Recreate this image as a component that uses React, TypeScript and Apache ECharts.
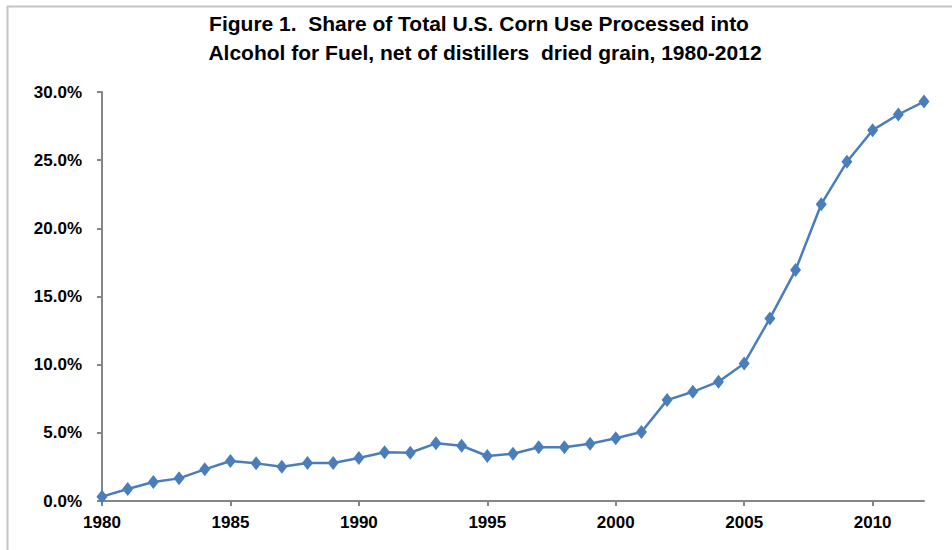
import React, { useEffect, useRef } from "react";
import * as echarts from "echarts";

const years: number[] = [
  1980, 1981, 1982, 1983, 1984, 1985, 1986, 1987, 1988, 1989, 1990,
  1991, 1992, 1993, 1994, 1995, 1996, 1997, 1998, 1999, 2000,
  2001, 2002, 2003, 2004, 2005, 2006, 2007, 2008, 2009, 2010, 2011, 2012,
];
const sharePct: number[] = [
  0.32, 0.88, 1.39, 1.66, 2.32, 2.93, 2.76, 2.51, 2.79, 2.79, 3.15,
  3.57, 3.54, 4.23, 4.05, 3.3, 3.47, 3.94, 3.94, 4.2, 4.6,
  5.06, 7.4, 8.01, 8.75, 10.09, 13.39, 16.94, 21.77, 24.88, 27.2, 28.35, 29.3,
];
const titleLines: string[] = [
  "Figure 1.  Share of Total U.S. Corn Use Processed into",
  "Alcohol for Fuel, net of distillers  dried grain, 1980-2012",
];

const FONT = "'Liberation Sans', Arial, sans-serif";

export default function App() {
  const ref = useRef<HTMLDivElement>(null);
  useEffect(() => {
    if (!ref.current) return;
    const chart = echarts.init(ref.current, undefined, { renderer: "svg" });
    const titleStyle = {
      fontFamily: FONT,
      fontSize: 21,
      fontWeight: "bold",
      fill: "#000000",
      textAlign: "center",
      textVerticalAlign: "middle",
    };
    chart.setOption({
      animation: false,
      backgroundColor: "#ffffff",
      graphic: [
        {
          type: "line",
          shape: { x1: 7, y1: 6.5, x2: 952, y2: 6.5 },
          style: { stroke: "#c4c4c4", lineWidth: 2 },
        },
        {
          type: "line",
          shape: { x1: 7.5, y1: 6, x2: 7.5, y2: 550 },
          style: { stroke: "#c4c4c4", lineWidth: 2 },
        },
        {
          type: "text",
          x: 479,
          y: 23,
          style: { ...titleStyle, text: titleLines[0] },
        },
        {
          type: "text",
          x: 485,
          y: 52,
          style: { ...titleStyle, text: titleLines[1] },
        },
      ],
      grid: { left: 102, top: 92, right: 28, bottom: 49, containLabel: false },
      xAxis: {
        type: "value",
        min: 1980,
        max: 2012,
        interval: 5,
        splitLine: { show: false },
        axisLine: { lineStyle: { color: "#868686", width: 2 } },
        axisTick: { show: true, length: 5, lineStyle: { color: "#868686", width: 2 } },
        axisLabel: {
          margin: 13,
          fontFamily: FONT,
          fontSize: 17,
          fontWeight: "bold",
          color: "#000000",
          formatter: (v: number) => String(v),
          showMaxLabel: false,
        },
      },
      yAxis: {
        type: "value",
        min: 0,
        max: 30,
        interval: 5,
        splitLine: { show: false },
        axisLine: { show: true, lineStyle: { color: "#868686", width: 2 } },
        axisTick: { show: true, length: 5, lineStyle: { color: "#868686", width: 2 } },
        axisLabel: {
          margin: 20,
          fontFamily: FONT,
          fontSize: 17,
          fontWeight: "bold",
          color: "#000000",
          formatter: (v: number) => v.toFixed(1) + "%",
        },
      },
      series: [
        {
          type: "line",
          data: years.map((y, i) => [y, sharePct[i]]),
          symbol: "diamond",
          symbolSize: [11, 14],
          lineStyle: { color: "#4a7ebb", width: 2.5 },
          itemStyle: { color: "#4a7ebb" },
        },
      ],
    });
    return () => chart.dispose();
  }, []);
  return (
    <div
      ref={ref}
      style={{ position: "fixed", left: 0, top: 0, width: 952, height: 550 }}
    />
  );
}
